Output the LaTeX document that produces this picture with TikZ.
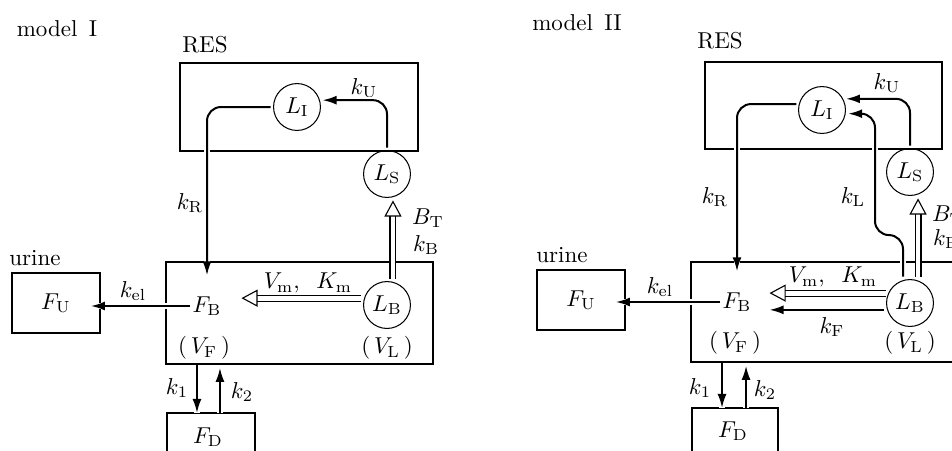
\documentclass[tikz,border=0pt]{standalone}
\usepackage{amsmath}
\usetikzlibrary{arrows.meta}

\tikzset{
  pool/.style={circle, draw, line width=0.45pt, minimum size=20.4pt, inner sep=0pt, outer sep=1.3pt},
  comp/.style={draw, line width=0.7pt},
  flow/.style={line width=0.87pt, -{Latex[length=6.1pt,width=3.9pt]},
    preaction={draw=white, line width=2.6pt, arrows=-}},
  hollow/.style={double, double distance=2.1pt, line width=0.48pt,
    -{Triangle[open,length=7pt,width=7.4pt]}},
}

\begin{document}
\begin{tikzpicture}[x=0.435pt,y=-0.435pt]
\useasboundingbox (0,0) rectangle (952,450);

% ---------- model I ----------
\node at (57,29) {model\enspace I};
\node at (205,45) {RES};
\node at (35,258) {urine};

% compartments
\draw[comp] (180,63) rectangle (418,151);
\node[comp, minimum width=116.1pt, minimum height=44.4pt] (Ba) at (299.5,313) {};
\node[comp, minimum width=38.3pt, minimum height=26.1pt] (FUa) at (56,303) {$F_{\mathrm{U}}$};
\draw[comp] (167,470) |- (255,413) -- (255,470);
\coordinate (Da) at (211,413);

% pools
\node[pool] (LIa) at (297,107) {$L_{\mathrm{I}}$};
\node[pool] (LSa) at (387,174) {$L_{\mathrm{S}}$};
\node[pool] (LBa) at (387,305) {$L_{\mathrm{B}}$};
\node (FBa) at (207,306) {$F_{\mathrm{B}}$};
\node at (208,437) {$F_{\mathrm{D}}$};
\node at (204,348) {(\,$V_{\mathrm{F}}$\,)};
\node at (387,348) {(\,$V_{\mathrm{L}}$\,)};

% rate labels
\node at (364,88) {$k_{\mathrm{U}}$};
\node at (190,203) {$k_{\mathrm{R}}$};
\node[anchor=west] at (404,218) {$B_{\mathrm{T}}$};
\node[anchor=west] at (405,245) {$k_{\mathrm{B}}$};
\node at (308,283) {$V_{\mathrm{m}},\;\;K_{\mathrm{m}}$};
\node at (133,291) {$k_{\mathrm{el}}$};
\node at (177,388) {$k_1$};
\node at (242,392) {$k_2$};

% transfers
\draw[flow, rounded corners=6.1pt] (LSa.north) |- (LIa.15);
\draw[flow, rounded corners=6.1pt, shorten >=5.65pt] (LIa.west) -| (FBa.north);
\draw[hollow] ([xshift=2.6pt]LBa.north) -- ([xshift=2.6pt]LBa.north |- LSa.south);
\draw[hollow, shorten >=5.2pt] (LBa.165) -- (LBa.165 -| FBa.east);
\draw[flow, shorten <=-2.6pt, shorten >=-4.35pt] (FBa.west) -- (FBa.west -| FUa.east);
\draw[flow] ([xshift=-6.1pt]Da |- Ba.south) -- ([xshift=-6.1pt]Da);
\draw[flow, shorten >=1.3pt] ([xshift=3.9pt]Da) -- ([xshift=3.9pt]Da |- Ba.south);

% ---------- model II ----------
\node at (577,23) {model\enspace II};
\node at (720,41) {RES};
\node at (562,255) {urine};

% compartments
\draw[comp] (705,62) rectangle (942,149);
\node[comp, minimum width=130.1pt, minimum height=43.5pt] (Bb) at (840.5,312) {};
\node[comp, minimum width=38.3pt, minimum height=26.1pt] (FUb) at (581,300) {$F_{\mathrm{U}}$};
\draw[comp] (692,470) |- (778,408) -- (778,470);
\coordinate (Db) at (735,408);

% pools
\node[pool] (LIb) at (822,110) {$L_{\mathrm{I}}$};
\node[pool] (LSb) at (910,172) {$L_{\mathrm{S}}$};
\node[pool] (LBb) at (910,303) {$L_{\mathrm{B}}$};
\node (FBb) at (737,302) {$F_{\mathrm{B}}$};
\node at (733,431) {$F_{\mathrm{D}}$};
\node at (735,343) {(\,$V_{\mathrm{F}}$\,)};
\node at (910,343) {(\,$V_{\mathrm{L}}$\,)};

% rate labels
\node at (887,83) {$k_{\mathrm{U}}$};
\node at (715,197) {$k_{\mathrm{R}}$};
\node at (853,197) {$k_{\mathrm{L}}$};
\node[anchor=west] at (924,215) {$B_{\mathrm{T}}$};
\node[anchor=west] at (925,239) {$k_{\mathrm{B}}$};
\node at (833,277) {$V_{\mathrm{m}},\;\;K_{\mathrm{m}}$};
\node at (832,327) {$k_{\mathrm{F}}$};
\node at (660,287) {$k_{\mathrm{el}}$};
\node at (700,388) {$k_1$};
\node at (765,390) {$k_2$};

% transfers
\draw[flow, rounded corners=6.1pt] (LSb.north) |- (LIb.25);
\draw[flow, rounded corners=6.1pt] ([xshift=-3.05pt]LBb.north) -- ++(0,-41.5) -- ++(-28,0) |- (LIb.-8);
\draw[flow, rounded corners=6.1pt, shorten >=5.65pt] (LIb.167) -| (FBb.north);
\draw[hollow] ([xshift=3.5pt]LBb.north) -- ([xshift=3.5pt]LBb.north |- LSb.south);
\draw[hollow, shorten >=4.35pt] (LBb.158) -- (LBb.158 -| FBb.east);
\draw[flow, shorten >=4.35pt] (LBb.195) -- (LBb.195 -| FBb.east);
\draw[flow, shorten <=-2.6pt, shorten >=-4.35pt] (FBb.west) -- (FBb.west -| FUb.east);
\draw[flow] ([xshift=-5.65pt]Db |- Bb.south) -- ([xshift=-5.65pt]Db);
\draw[flow, shorten >=1.3pt] ([xshift=4.8pt]Db) -- ([xshift=4.8pt]Db |- Bb.south);
\end{tikzpicture}
\end{document}
